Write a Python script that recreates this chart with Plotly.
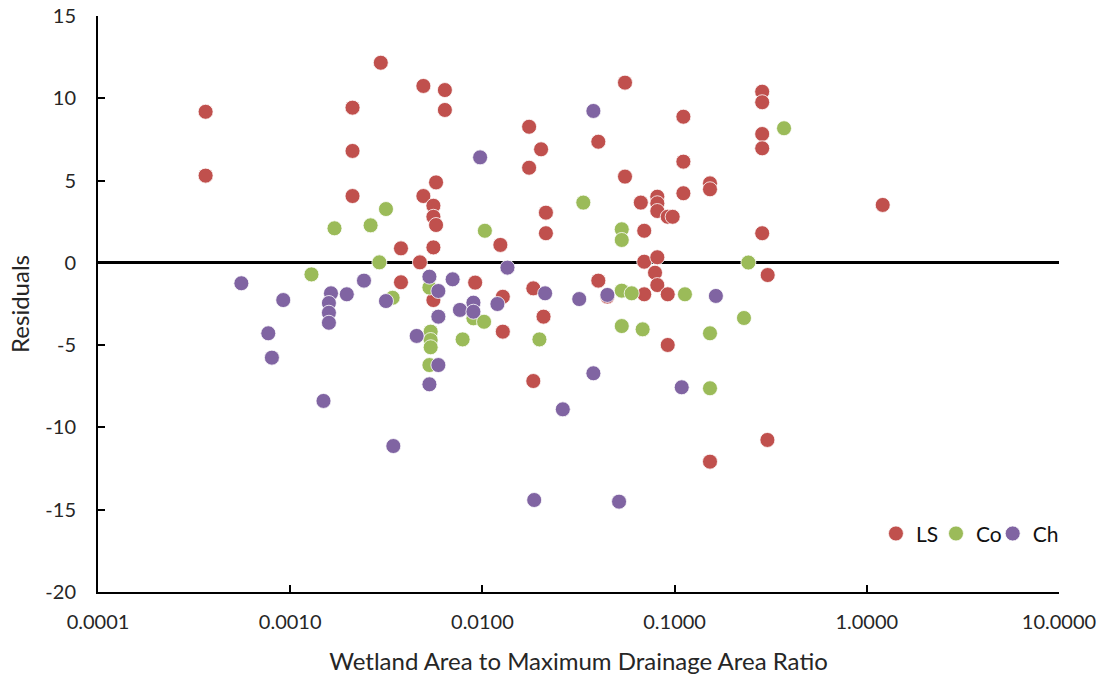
import plotly.graph_objects as go

# ---- data ----
ls_x = [0.000363, 0.000363, 0.00296, 0.00493, 0.00638, 0.00638, 0.00211, 0.00211, 0.00211,
        0.00574, 0.00493, 0.00556, 0.00556, 0.00574, 0.00377, 0.00556, 0.00473, 0.00377,
        0.00556, 0.00917, 0.0124, 0.01277, 0.01277, 0.0175, 0.0202, 0.0175, 0.0214, 0.0214,
        0.0184, 0.0208, 0.0184, 0.0401, 0.0401, 0.0447, 0.0552, 0.0552, 0.0667, 0.0695,
        0.0695, 0.0695, 0.0813, 0.0813, 0.0813, 0.0813, 0.0791, 0.0813, 0.0921, 0.0977,
        0.0921, 0.0921, 0.1111, 0.1111, 0.1111, 0.1528, 0.1528, 0.1528, 0.2856, 0.2856,
        0.2856, 0.2856, 0.2856, 0.305, 0.304, 1.21]
ls_y = [9.18, 5.30, 12.16, 10.75, 10.50, 9.29, 9.43, 6.80, 4.06,
        4.89, 4.06, 3.47, 2.80, 2.30, 0.88, 0.94, 0.03, -1.18,
        -2.26, -1.20, 1.09, -2.06, -4.18, 8.27, 6.90, 5.78, 3.05, 1.80,
        -1.55, -3.27, -7.18, 7.36, -1.08, -2.05, 10.95, 5.24, 3.66, 1.95,
        0.07, -1.91, 4.02, 3.62, 3.15, 0.34, -0.60, -1.35, 2.80, 2.80,
        -1.91, -4.99, 8.88, 6.15, 4.23, 4.83, 4.47, -12.08, 10.40, 9.76,
        7.83, 6.96, 1.80, -0.74, -10.76, 3.52]

co_x = [0.00129, 0.00170, 0.00262, 0.00315, 0.00291, 0.00341, 0.00530, 0.00538, 0.00538,
        0.00538, 0.00530, 0.00789, 0.00898, 0.0102, 0.0103, 0.0198, 0.0335, 0.0531,
        0.0531, 0.0531, 0.0598, 0.0531, 0.0682, 0.1132, 0.1528, 0.1528, 0.2296, 0.242, 0.371]
co_y = [-0.70, 2.10, 2.28, 3.27, 0.03, -2.12, -1.50, -4.18, -4.69,
        -5.13, -6.21, -4.65, -3.37, -3.58, 1.95, -4.65, 3.66, 2.04,
        1.39, -1.69, -1.85, -3.84, -4.04, -1.91, -4.28, -7.62, -3.35, 0.02, 8.18]

ch_x = [0.000557, 0.000769, 0.000803, 0.000920, 0.00149, 0.00163, 0.00159, 0.00159, 0.00159,
        0.00197, 0.00242, 0.00315, 0.00344, 0.00455, 0.00530, 0.00590, 0.00590, 0.00590,
        0.00530, 0.00700, 0.00764, 0.00898, 0.00898, 0.00973, 0.01197, 0.0135, 0.0212,
        0.0186, 0.0262, 0.0319, 0.0378, 0.0378, 0.0447, 0.0514, 0.1089, 0.164]
ch_y = [-1.24, -4.28, -5.76, -2.26, -8.39, -1.85, -2.44, -3.03, -3.64,
        -1.91, -1.08, -2.32, -11.13, -4.44, -0.84, -1.71, -3.27, -6.21,
        -7.38, -1.00, -2.86, -2.42, -2.97, 6.41, -2.50, -0.29, -1.85,
        -14.41, -8.90, -2.20, 9.23, -6.71, -1.95, -14.51, -7.56, -2.01]

x_tickvals = [0.0001, 0.001, 0.01, 0.1, 1, 10]
x_ticktext = ["0.0001", "0.0010", "0.0100", "0.1000", "1.0000", "10.0000"]
y_tickvals = [15, 10, 5, 0, -5, -10, -15, -20]
y_ticktext = ["15", "10", "5", "0", "-5", "-10", "-15", "-20"]

series = [("LS", ls_x, ls_y, "#C0504D"),
          ("Co", co_x, co_y, "#9BBB59"),
          ("Ch", ch_x, ch_y, "#8064A2")]

FONT = "Lato, Carlito, Calibri, sans-serif"
TXT = "#262626"
legend_names = ["legend", "legend2", "legend3"]
legend_x = [0.8095, 0.872, 0.931]

fig = go.Figure()
for (name, xs, ys, col), lg in zip(series, legend_names):
    fig.add_trace(go.Scatter(
        x=xs, y=ys, mode="markers", name=name, legend=lg,
        marker=dict(size=15, color=col, line=dict(width=1, color="rgba(255,255,255,0.8)")),
    ))

legend_common = dict(orientation="h", y=0.101, yanchor="middle", xanchor="left",
                     font=dict(family=FONT, size=21, color="#111111"),
                     bgcolor="rgba(0,0,0,0)", itemsizing="trace")

fig.update_layout(
    width=1103, height=679,
    margin=dict(l=98, r=44, t=16, b=87, autoexpand=False),
    paper_bgcolor="white", plot_bgcolor="white",
    font=dict(family=FONT, size=20, color=TXT),
    showlegend=True,
    legend=dict(x=legend_x[0], **legend_common),
    legend2=dict(x=legend_x[1], **legend_common),
    legend3=dict(x=legend_x[2], **legend_common),
    xaxis=dict(type="log", range=[-4, 1], tickvals=x_tickvals, ticktext=x_ticktext,
               automargin=False, ticklabeloverflow="allow",
               showgrid=False, zeroline=False, showline=True, linecolor="black", linewidth=2,
               ticks="inside", ticklen=7, tickwidth=2, tickcolor="black",
               ticklabelstandoff=11,
               title=dict(text="Wetland Area to Maximum Drainage Area Ratio",
                          font=dict(family=FONT, size=24, color=TXT), standoff=21)),
    yaxis=dict(range=[-20, 15], tickvals=y_tickvals, ticktext=y_ticktext,
               automargin=False, ticklabeloverflow="allow",
               showgrid=False, zeroline=True, zerolinecolor="black", zerolinewidth=3,
               showline=True, linecolor="black", linewidth=2,
               ticks="inside", ticklen=7, tickwidth=2, tickcolor="black",
               ticklabelstandoff=16,
               title=dict(text="Residuals", font=dict(family=FONT, size=24, color=TXT),
                          standoff=9)),
)

# remove the browser's default 8px body margin so the figure fills the window exactly
fig.write_html("out.html",
               config={"displayModeBar": False},
               post_script="document.body.style.margin='0';document.body.style.overflow='hidden';")
